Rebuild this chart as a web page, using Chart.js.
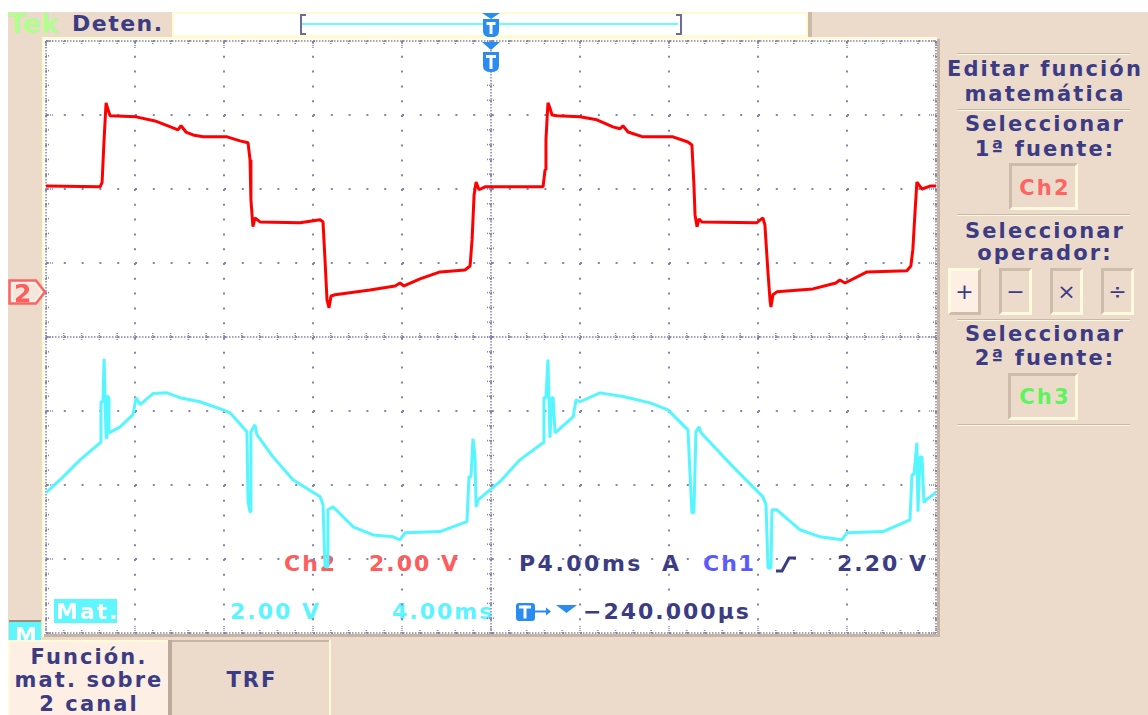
<!DOCTYPE html>
<html lang="es">
<head>
<meta charset="utf-8">
<title>Función matemática Ch2 + Ch3</title>
<script src="https://cdn.jsdelivr.net/npm/chart.js@4.4.1/dist/chart.umd.min.js"></script>
<style>
  html, body { margin: 0; padding: 0; background: #fff; }
  #scope { position: relative; width: 1148px; height: 715px; overflow: hidden; background: #fff;
           font-family: "DejaVu Sans", "Liberation Sans", sans-serif; font-weight: bold; }
  .a { position: absolute; }
  .t { position: absolute; white-space: nowrap; line-height: 1; }
  .ink { color: #3c3c84; }
  .plot { font-size: 22px; letter-spacing: 2px; }
  .red { color: #ff5c5c; }
  .cyan { color: #5cf4ff; }
  .pt { position: absolute; left: 940px; width: 208px; box-sizing: border-box; padding-left: 2px;
        text-align: center; white-space: nowrap; line-height: 1; font-size: 21px;
        letter-spacing: 2.1px; color: #3c3c84; }
  .bt { position: absolute; box-sizing: border-box; padding-left: 2px; text-align: center;
        white-space: nowrap; line-height: 1; font-size: 21px; letter-spacing: 2.1px; color: #3c3c84; }
  .sep { position: absolute; left: 957px; width: 173px; height: 1px; background: #c9b8a6;
         border-bottom: 1px solid #fffae2; }
  .inset { position: absolute; box-sizing: border-box; border-style: solid; border-width: 3px;
           border-color: #cdbca9 #fffbdc #fffbdc #cdbca9; }
  .raised { position: absolute; box-sizing: border-box; border-style: solid; border-width: 3px;
            border-color: #fffbdc #cdbca9 #cdbca9 #fffbdc; background: #fdefe3; }
  .op { font-weight: normal; font-size: 22px; text-align: center; line-height: 41px; color: #3c3c84; }
  #chartWrap { position: absolute; left: 0; top: 0; width: 1148px; height: 715px; }
</style>
</head>
<body>
<div id="scope">
  <!-- bezel -->
  <div class="a" style="left:8px;top:12px;width:1140px;height:703px;background:#ecdbca"></div>

  <!-- status line -->
  <div class="t" style="left:8px;top:10px;font-size:27px;color:#b0ff8c">Tek</div>
  <div class="t ink" style="left:72px;top:13px;font-size:22px;letter-spacing:1.5px">Deten.</div>
  <div class="a" style="left:172px;top:12px;width:632px;height:21px;background:#fff;border:2px solid #fffad2"></div>
  <div class="a" style="left:808px;top:12px;width:4px;height:25px;background:#cbbaa8"></div>
  <div class="a" style="left:300px;top:14px;width:4px;height:17px;border:2px solid #6c6c9c;border-right:none"></div>
  <div class="a" style="left:676px;top:14px;width:4px;height:17px;border:2px solid #6c6c9c;border-left:none"></div>
  <div class="a" style="left:302px;top:23px;width:376px;height:2px;background:#66ffff"></div>
  <svg class="a" style="left:480px;top:12px" width="22" height="26">
    <polygon points="2,1 20,1 11,7" fill="#2a8cf0"/>
    <path d="M3,7 H19 V19 Q19,25 11,25.5 Q3,25 3,19 Z" fill="#2a8cf0"/>
    <rect x="6.5" y="10" width="9" height="3" fill="#fff"/>
    <rect x="9.5" y="10" width="3" height="12" fill="#fff"/>
  </svg>

  <!-- display frame -->
  <div class="a" style="left:42px;top:37px;width:895px;height:2px;background:#fffad2"></div>
  <div class="a" style="left:42px;top:37px;width:2px;height:600px;background:#fffad2"></div>
  <div class="a" style="left:44px;top:39px;width:893px;height:595px;background:#fff"></div>
  <div class="a" style="left:937px;top:39px;width:3px;height:598px;background:#c6b5a3"></div>
  <div class="a" style="left:44px;top:634px;width:896px;height:3px;background:#c6b5a3"></div>

  <!-- side menu -->
  <div class="sep" style="top:53px"></div>
  <div class="pt" style="top:59px">Editar función</div>
  <div class="pt" style="top:84px">matemática</div>
  <div class="sep" style="top:109px"></div>
  <div class="pt" style="top:114px">Seleccionar</div>
  <div class="pt" style="top:139px">1ª fuente:</div>
  <div class="inset" style="left:1009px;top:163px;width:69px;height:47px"></div>
  <div class="pt" style="top:178px;color:#ff6464">Ch2</div>
  <div class="sep" style="top:214px"></div>
  <div class="pt" style="top:221px">Seleccionar</div>
  <div class="pt" style="top:243px">operador:</div>
  <div class="raised op" style="left:948px;top:268px;width:33px;height:47px">+</div>
  <div class="inset op" style="left:999px;top:268px;width:33px;height:47px">−</div>
  <div class="inset op" style="left:1050px;top:268px;width:33px;height:47px">×</div>
  <div class="inset op" style="left:1101px;top:268px;width:33px;height:47px">÷</div>
  <div class="sep" style="top:319px"></div>
  <div class="pt" style="top:324px">Seleccionar</div>
  <div class="pt" style="top:348px">2ª fuente:</div>
  <div class="inset" style="left:1008px;top:373px;width:70px;height:47px"></div>
  <div class="pt" style="top:387px;color:#5cf55c">Ch3</div>
  <div class="sep" style="top:424px"></div>

  <!-- bottom menu -->
  <div class="a" style="left:8px;top:640px;width:158px;height:73px;background:#fdefe3;border-left:2px solid #fffbd8;border-top:2px solid #fffbd8"></div>
  <div class="a" style="left:168px;top:640px;width:4px;height:75px;background:#bcab99"></div>
  <div class="a" style="left:172px;top:640px;width:157px;height:2px;background:#c6b5a3"></div>
  <div class="a" style="left:329px;top:640px;width:2px;height:75px;background:#fffbd8"></div>
  <div class="bt" style="left:8px;width:160px;top:647px">Función.</div>
  <div class="bt" style="left:8px;width:160px;top:670px">mat. sobre</div>
  <div class="bt" style="left:8px;width:160px;top:694px">2 canal</div>
  <div class="bt" style="left:172px;width:158px;top:670px">TRF</div>

  <!-- readouts -->
  <div class="t plot red" style="left:284px;top:553px">Ch2</div>
  <div class="t plot red" style="left:369px;top:553px">2.00 V</div>
  <div class="t plot ink" style="left:519px;top:553px;letter-spacing:2.5px">P4.00ms</div>
  <div class="t plot ink" style="left:662px;top:553px">A</div>
  <div class="t plot" style="left:703px;top:553px;color:#5a5aff">Ch1</div>
  <div class="t plot ink" style="left:837px;top:553px">2.20 V</div>
  <div class="t plot cyan" style="left:230px;top:601px">2.00 V</div>
  <div class="t plot cyan" style="left:392px;top:601px">4.00ms</div>
  <div class="t plot ink" style="left:583px;top:601px">−240.000µs</div>

  <div id="chartWrap"><canvas id="scopeChart"></canvas></div>

  <!-- markers and labels drawn over the traces -->
  <svg class="a" style="left:775px;top:556px" width="22" height="17">
    <polyline points="1,15 7,15 14,2 21,2" fill="none" stroke="#3c3c84" stroke-width="3"/>
  </svg>
  <svg class="a" style="left:481px;top:41px" width="20" height="32">
    <polygon points="1,1 19,1 10,9" fill="#2a8cf0"/>
    <path d="M2,11 H18 V25 Q18,31 10,31 Q2,31 2,25 Z" fill="#2a8cf0"/>
    <rect x="5" y="14" width="10" height="3" fill="#fff"/>
    <rect x="8.5" y="14" width="3" height="14" fill="#fff"/>
  </svg>
  <svg class="a" style="left:515px;top:602px" width="64" height="20">
    <rect x="1" y="1" width="19" height="18" rx="3" fill="#2a8cf0"/>
    <rect x="4" y="3.5" width="12" height="3" fill="#fff"/>
    <rect x="8.5" y="3.5" width="3" height="13" fill="#fff"/>
    <line x1="20" y1="9.5" x2="32" y2="9.5" stroke="#2a8cf0" stroke-width="2"/>
    <polygon points="31,5.5 36,9.5 31,13.5" fill="#2a8cf0"/>
    <polygon points="41,3 62,3 51.5,11" fill="#2a8cf0"/>
  </svg>
  <div class="a" style="left:54px;top:599px;width:63px;height:24px;background:#5ef7ff"></div>
  <div class="t plot" style="left:56px;top:601px;color:#fff">Mat.</div>
  <div class="a" style="left:9px;top:620px;width:32px;height:18px;border-top:2px solid #9c8c7c;background:#5ef7ff;overflow:hidden">
    <div class="t" style="left:6px;top:3px;font-size:22px;color:#fff">M</div>
  </div>
  <svg class="a" style="left:8px;top:279px" width="40" height="27">
    <polygon points="1.5,1.5 28,1.5 37,13 28,24.5 1.5,24.5" fill="#f3e6da" stroke="#ff6464" stroke-width="2.5"/>
    <polygon points="4,4 26.8,4 33.8,13 26.8,22 4,22" fill="none" stroke="#ffffff" stroke-width="1"/>
  </svg>
  <div class="t" style="left:14px;top:281px;font-size:25px;color:#ff5c5c">2</div>
</div>

<script>
// Timebase: 4.00 ms/div across 10 divisions, trigger in the centre
const MS_PER_DIV = 4;
const H_DIVS = 10;
const V_DIVS = 8;
// Both traces at 2.00 V/div
const CH2_V_PER_DIV = 2;
const MAT_V_PER_DIV = 2;
// Ground reference of each trace, in divisions above the centre line
const CH2_GROUND_DIV = 0.61;
const MAT_GROUND_DIV = -3.97;

// Ch2: inverter output voltage (time in ms, volts)
const ch2TimeMs = [-20.0, -17.57, -17.48, -17.39, -17.30, -17.21, -17.12, -15.95, -15.10, -14.29,
  -14.07, -13.93, -13.71, -13.39, -12.94, -11.86, -11.28, -10.92, -10.83, -10.79,
  -10.70, -10.61, -10.38, -8.58, -7.68, -7.55, -7.46, -7.37, -7.28, -7.19,
  -7.01, -5.44, -4.31, -4.09, -3.91, -3.19, -2.29, -1.17, -0.94, -0.85,
  -0.76, -0.67, -0.54, -0.27, 2.25, 2.34, 2.43, 2.47, 2.56, 2.65,
  2.74, 2.97, 4.00, 4.76, 5.48, 5.80, 5.93, 6.16, 6.83, 8.18,
  8.85, 9.03, 9.12, 9.17, 9.26, 9.35, 9.48, 11.95, 12.22, 12.31,
  12.45, 12.54, 12.58, 12.67, 12.85, 14.47, 15.50, 15.68, 15.91, 16.90,
  18.69, 18.87, 18.96, 19.05, 19.14, 19.23, 19.37, 19.73, 20.0];
const ch2Volts = [2.86, 2.84, 2.95, 4.11, 5.11, 4.92, 4.76, 4.73, 4.62, 4.43,
  4.38, 4.49, 4.32, 4.24, 4.19, 4.19, 4.08, 4.03, 3.57, 2.49,
  1.76, 2.00, 1.89, 1.87, 1.95, 1.89, 0.86, -0.22, -0.43, -0.11,
  -0.08, 0.05, 0.16, 0.24, 0.16, 0.35, 0.54, 0.59, 0.70, 1.41,
  2.62, 2.97, 2.76, 2.84, 2.84, 2.84, 3.30, 4.11, 5.11, 4.97,
  4.78, 4.76, 4.73, 4.65, 4.46, 4.41, 4.49, 4.32, 4.19, 4.19,
  4.05, 3.97, 2.89, 2.08, 1.76, 1.97, 1.89, 1.87, 2.00, 1.81,
  0.51, -0.22, -0.41, -0.08, 0.00, 0.08, 0.24, 0.32, 0.24, 0.54,
  0.57, 0.70, 1.14, 2.08, 2.97, 2.89, 2.78, 2.86, 2.86];

// Math trace (Ch2 + Ch3)
const matTimeMs = [-20.0, -19.23, -18.47, -17.57, -17.53, -17.44, -17.39, -17.30, -17.26, -17.21,
  -17.17, -16.67, -16.09, -15.95, -15.77, -15.19, -14.56, -13.98, -13.08, -12.04,
  -11.73, -10.97, -10.92, -10.83, -10.79, -10.61, -10.52, -9.80, -8.90, -7.68,
  -7.55, -7.46, -7.37, -7.33, -7.10, -6.20, -5.30, -4.40, -4.09, -3.86,
  -2.29, -1.08, -0.99, -0.90, -0.81, -0.72, -0.67, -0.58, 0.40, 1.30,
  2.34, 2.38, 2.47, 2.56, 2.65, 2.74, 2.79, 2.88, 3.69, 3.82,
  4.00, 4.90, 5.93, 7.15, 7.95, 8.85, 9.03, 9.12, 9.21, 9.35,
  9.44, 10.88, 12.22, 12.36, 12.45, 12.58, 12.63, 12.85, 13.89, 14.79,
  15.77, 16.00, 17.62, 18.83, 18.92, 19.01, 19.14, 19.19, 19.28, 19.37,
  19.46, 19.55, 20.0];
const matVolts = [3.73, 4.16, 4.62, 5.08, 6.19, 6.19, 7.35, 5.22, 6.33, 6.33,
  5.35, 5.51, 5.84, 6.30, 6.11, 6.41, 6.43, 6.30, 6.19, 5.97,
  5.89, 5.38, 3.49, 3.22, 5.38, 5.57, 5.30, 4.70, 4.08, 3.62,
  3.41, 1.73, 1.73, 3.27, 3.35, 2.81, 2.59, 2.54, 2.46, 2.65,
  2.68, 2.95, 4.16, 4.16, 5.19, 4.70, 3.35, 3.54, 4.03, 4.62,
  5.08, 6.30, 6.30, 7.33, 5.22, 6.30, 6.30, 5.35, 5.78, 6.24,
  6.19, 6.43, 6.33, 6.16, 5.97, 5.43, 3.19, 3.19, 5.38, 5.51,
  5.35, 4.43, 3.62, 3.41, 1.70, 1.70, 3.27, 3.27, 2.73, 2.54,
  2.46, 2.65, 2.68, 3.00, 4.22, 4.22, 5.08, 3.22, 4.70, 4.70,
  3.46, 3.54, 3.73];

const DOT = '#8484b0';
const toPoints = (xs, ys) => xs.map((t, i) => ({ x: t, y: ys[i] }));

// Graticule: dense outer frame and centre cross with fifth-division ticks
const graticule = {
  id: 'graticule',
  beforeDatasetsDraw(chart) {
    const { ctx, chartArea: a, scales } = chart;
    const xs = scales.x, ds = scales.div;
    const seg = (x1, y1, x2, y2, dash) => {
      ctx.setLineDash(dash);
      ctx.beginPath();
      ctx.moveTo(x1, y1);
      ctx.lineTo(x2, y2);
      ctx.stroke();
    };
    ctx.save();
    ctx.strokeStyle = DOT;
    ctx.lineWidth = 1.5;
    const x0 = xs.getPixelForValue(0);
    const y0 = ds.getPixelForValue(0);
    const dense = [1.5, 1.5];
    seg(a.left, a.top, a.right, a.top, dense);
    seg(a.left, a.bottom, a.right, a.bottom, dense);
    seg(a.left, a.top, a.left, a.bottom, dense);
    seg(a.right, a.top, a.right, a.bottom, dense);
    seg(a.left, y0, a.right, y0, dense);
    seg(x0, a.top, x0, a.bottom, dense);

    const tick = [1, 1];
    const hSteps = H_DIVS * 5;
    for (let i = 0; i <= hSteps; i++) {
      const px = xs.getPixelForValue(xs.min + (xs.max - xs.min) * i / hSteps);
      const len = i % 5 === 0 ? 8 : 4;
      seg(px, a.top, px, a.top + len, tick);
      seg(px, a.bottom, px, a.bottom - len, tick);
      seg(px, y0 - 4, px, y0 + 4, tick);
    }
    const vSteps = V_DIVS * 5;
    for (let j = 0; j <= vSteps; j++) {
      const py = ds.getPixelForValue(ds.min + (ds.max - ds.min) * j / vSteps);
      const len = j % 5 === 0 ? 8 : 4;
      seg(a.left, py, a.left + len, py, tick);
      seg(a.right, py, a.right - len, py, tick);
      seg(x0 - 4, py, x0 + 4, py, tick);
    }
    ctx.restore();
  }
};

new Chart(document.getElementById('scopeChart'), {
  type: 'line',
  data: {
    datasets: [
      {
        label: 'Mat.',
        data: toPoints(matTimeMs, matVolts),
        yAxisID: 'mat',
        borderColor: '#55f6ff',
        borderWidth: 3,
        borderJoinStyle: 'bevel',
        pointRadius: 0,
        tension: 0,
        fill: false
      },
      {
        label: 'Ch2',
        data: toPoints(ch2TimeMs, ch2Volts),
        yAxisID: 'ch2',
        borderColor: '#ff0000',
        borderWidth: 3,
        borderJoinStyle: 'bevel',
        pointRadius: 0,
        tension: 0,
        fill: false
      }
    ]
  },
  options: {
    responsive: true,
    maintainAspectRatio: false,
    devicePixelRatio: 1,
    animation: false,
    events: [],
    layout: { padding: { left: 46, top: 41, right: 212, bottom: 82 } },
    plugins: { legend: { display: false }, tooltip: { enabled: false } },
    scales: {
      x: {
        type: 'linear',
        min: -MS_PER_DIV * H_DIVS / 2,
        max: MS_PER_DIV * H_DIVS / 2,
        ticks: { display: false, stepSize: MS_PER_DIV },
        grid: { color: DOT, lineWidth: 2, drawTicks: false },
        border: { display: false, dash: [2, 12.8] }
      },
      div: {
        type: 'linear',
        position: 'left',
        min: -V_DIVS / 2,
        max: V_DIVS / 2,
        ticks: { display: false, stepSize: 1 },
        grid: { color: DOT, lineWidth: 2, drawTicks: false },
        border: { display: false, dash: [2, 15.8] }
      },
      ch2: {
        type: 'linear',
        display: false,
        min: (-V_DIVS / 2 - CH2_GROUND_DIV) * CH2_V_PER_DIV,
        max: (V_DIVS / 2 - CH2_GROUND_DIV) * CH2_V_PER_DIV
      },
      mat: {
        type: 'linear',
        display: false,
        min: (-V_DIVS / 2 - MAT_GROUND_DIV) * MAT_V_PER_DIV,
        max: (V_DIVS / 2 - MAT_GROUND_DIV) * MAT_V_PER_DIV
      }
    }
  },
  plugins: [graticule]
});
</script>
</body>
</html>
